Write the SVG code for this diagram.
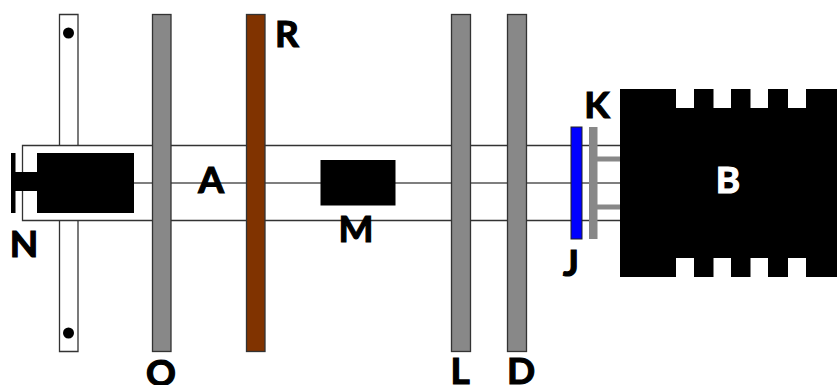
<svg xmlns="http://www.w3.org/2000/svg" width="837" height="385" viewBox="0 0 837 385">
<style>
.ln{fill:none;stroke:#333;stroke-width:1.3}
.plate{stroke:#333;stroke-width:1.3}
.gr{fill:#888}
.bk{fill:#000}
text{font-family:"Lato","Liberation Sans",sans-serif;font-weight:700;font-size:37px;text-anchor:middle;fill:#000;stroke:#000;stroke-width:1.2}
</style>
<rect width="837" height="385" fill="#fff"/>
<g id="post"><path class="ln" d="M59.500 145.500V14.500H78V145.500M59.500 220.500V351.500H78V220.500"/><circle cx="68.500" cy="33" r="5.500"/><circle cx="68.500" cy="333" r="5.500"/></g>
<g id="connectors">
<path class="ln" d="M620 145.500H22.500V220.500H620"/>
<path d="M134 183H620" fill="none" stroke="#555" stroke-width="1.500"/>
<path d="M597 159H620M597 207H620" stroke="#888" stroke-width="5" fill="none"/>
</g>
<g id="N"><rect class="bk" x="37" y="153" width="97" height="60"/><rect class="bk" x="14" y="172" width="24" height="19"/><rect class="bk" x="11" y="153" width="4.500" height="60"/><text x="24" y="257">N</text></g>
<g id="O"><rect class="gr plate" x="152.500" y="14.500" width="18.500" height="337"/><text x="161" y="386">O</text></g>
<g id="R"><rect x="246.500" y="14.500" width="18.500" height="337" fill="#803300" stroke="#333" stroke-width="1.300"/><text x="287" y="47">R</text></g>
<g id="A"><text x="211" y="193">A</text></g>
<g id="M"><rect class="bk" x="320.500" y="160" width="75" height="45.500"/><text x="356" y="242">M</text></g>
<g id="L"><rect class="gr plate" x="451.500" y="14.500" width="19" height="337"/><text x="460" y="383.500">L</text></g>
<g id="D"><rect class="gr plate" x="507.500" y="14.500" width="19" height="337"/><text x="521" y="383.500">D</text></g>
<g id="J"><rect x="571" y="127" width="11" height="112" fill="#00f" stroke="#222" stroke-width="1"/><text x="571" y="276">J</text></g>
<g id="K"><rect class="gr" x="589" y="127" width="8.500" height="112"/><text x="597" y="118">K</text></g>
<g id="B"><path class="bk" d="M620 89H676V108H694V89H713.500V108H731V89H750.500V108H768V89H788V108H806V89H837V277H806V258H788V277H768V258H750.500V277H731V258H713.500V277H694V258H676V277H620Z"/><text x="728" y="193" style="fill:#fff;stroke:#fff">B</text></g>
</svg>
